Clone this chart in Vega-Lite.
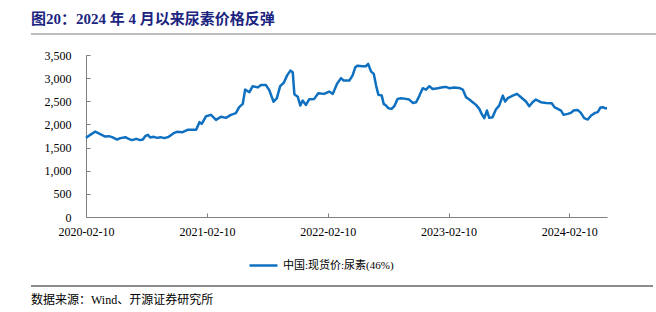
{
  "$schema": "https://vega.github.io/schema/vega-lite/v6.json",
  "padding": {"left": 30, "top": 12, "right": 0, "bottom": 0},
  "spacing": 14,
  "align": "none",
  "resolve": {"legend": {"color": "independent"}},
  "config": {
    "view": {"stroke": null},
    "font": "Liberation Serif, Noto Sans CJK SC",
    "axis": {"labelFont": "Liberation Serif, Noto Sans CJK SC", "labelFontSize": 12, "labelColor": "#000000", "domainColor": "#808080", "tickColor": "#808080", "grid": false, "title": null}
  },
  "vconcat": [
    {
      "width": 571,
      "height": 1,
      "title": {"text": "图20：2024 年 4 月以来尿素价格反弹", "anchor": "start", "frame": "group", "dx": -55, "orient": "top", "font": "Liberation Serif, Noto Sans CJK SC", "fontSize": 15, "fontWeight": "bold", "color": "#1b2580", "offset": 6},
      "data": {"values": [{"part": "header"}]},
      "mark": {"type": "rule", "color": "#7f7f7f", "strokeWidth": 1.2},
      "encoding": {
        "x": {"datum": 0, "type": "quantitative", "scale": {"domain": [0, 1], "range": [-55, 571]}, "axis": null},
        "x2": {"datum": 1},
        "y": {"datum": 1, "type": "quantitative", "scale": {"domain": [0, 1]}, "axis": null}
      }
    },
    {
      "spacing": 14,
      "align": "none",
      "resolve": {"legend": {"color": "independent"}},
      "vconcat": [
        {
          "width": 521,
          "height": 162,
          "data": {"values": [
            {"date": "2020-02-10", "price": 1710, "series": "中国:现货价:尿素(46%)"},
            {"date": "2020-02-23", "price": 1775, "series": "中国:现货价:尿素(46%)"},
            {"date": "2020-03-09", "price": 1846, "series": "中国:现货价:尿素(46%)"},
            {"date": "2020-03-24", "price": 1790, "series": "中国:现货价:尿素(46%)"},
            {"date": "2020-04-08", "price": 1739, "series": "中国:现货价:尿素(46%)"},
            {"date": "2020-04-19", "price": 1747, "series": "中国:现货价:尿素(46%)"},
            {"date": "2020-04-29", "price": 1725, "series": "中国:现货价:尿素(46%)"},
            {"date": "2020-05-14", "price": 1674, "series": "中国:现货价:尿素(46%)"},
            {"date": "2020-05-24", "price": 1704, "series": "中国:现货价:尿素(46%)"},
            {"date": "2020-06-08", "price": 1725, "series": "中国:现货价:尿素(46%)"},
            {"date": "2020-06-18", "price": 1689, "series": "中国:现货价:尿素(46%)"},
            {"date": "2020-06-28", "price": 1661, "series": "中国:现货价:尿素(46%)"},
            {"date": "2020-07-11", "price": 1689, "series": "中国:现货价:尿素(46%)"},
            {"date": "2020-07-23", "price": 1661, "series": "中国:现货价:尿素(46%)"},
            {"date": "2020-07-31", "price": 1674, "series": "中国:现货价:尿素(46%)"},
            {"date": "2020-08-07", "price": 1747, "series": "中国:现货价:尿素(46%)"},
            {"date": "2020-08-15", "price": 1775, "series": "中国:现货价:尿素(46%)"},
            {"date": "2020-08-22", "price": 1717, "series": "中国:现货价:尿素(46%)"},
            {"date": "2020-09-02", "price": 1732, "series": "中国:现货价:尿素(46%)"},
            {"date": "2020-09-12", "price": 1710, "series": "中国:现货价:尿素(46%)"},
            {"date": "2020-09-22", "price": 1725, "series": "中国:现货价:尿素(46%)"},
            {"date": "2020-10-04", "price": 1704, "series": "中国:现货价:尿素(46%)"},
            {"date": "2020-10-17", "price": 1732, "series": "中国:现货价:尿素(46%)"},
            {"date": "2020-11-01", "price": 1812, "series": "中国:现货价:尿素(46%)"},
            {"date": "2020-11-11", "price": 1840, "series": "中国:现货价:尿素(46%)"},
            {"date": "2020-11-28", "price": 1833, "series": "中国:现货价:尿素(46%)"},
            {"date": "2020-12-13", "price": 1883, "series": "中国:现货价:尿素(46%)"},
            {"date": "2021-01-08", "price": 1883, "series": "中国:现货价:尿素(46%)"},
            {"date": "2021-01-18", "price": 2049, "series": "中国:现货价:尿素(46%)"},
            {"date": "2021-01-25", "price": 2013, "series": "中国:现货价:尿素(46%)"},
            {"date": "2021-02-07", "price": 2178, "series": "中国:现货价:尿素(46%)"},
            {"date": "2021-02-22", "price": 2207, "series": "中国:现货价:尿素(46%)"},
            {"date": "2021-03-09", "price": 2099, "series": "中国:现货价:尿素(46%)"},
            {"date": "2021-03-24", "price": 2165, "series": "中国:现货价:尿素(46%)"},
            {"date": "2021-04-08", "price": 2142, "series": "中国:现货价:尿素(46%)"},
            {"date": "2021-04-23", "price": 2207, "series": "中国:现货价:尿素(46%)"},
            {"date": "2021-05-08", "price": 2243, "series": "中国:现货价:尿素(46%)"},
            {"date": "2021-05-18", "price": 2373, "series": "中国:现货价:尿素(46%)"},
            {"date": "2021-05-29", "price": 2444, "series": "中国:现货价:尿素(46%)"},
            {"date": "2021-06-05", "price": 2752, "series": "中国:现货价:尿素(46%)"},
            {"date": "2021-06-18", "price": 2696, "series": "中国:现货价:尿素(46%)"},
            {"date": "2021-06-28", "price": 2826, "series": "中国:现货价:尿素(46%)"},
            {"date": "2021-07-13", "price": 2800, "series": "中国:现货价:尿素(46%)"},
            {"date": "2021-07-23", "price": 2850, "series": "中国:现货价:尿素(46%)"},
            {"date": "2021-08-07", "price": 2850, "series": "中国:现货价:尿素(46%)"},
            {"date": "2021-08-17", "price": 2740, "series": "中国:现货价:尿素(46%)"},
            {"date": "2021-08-30", "price": 2490, "series": "中国:现货价:尿素(46%)"},
            {"date": "2021-09-09", "price": 2570, "series": "中国:现货价:尿素(46%)"},
            {"date": "2021-09-19", "price": 2826, "series": "中国:现货价:尿素(46%)"},
            {"date": "2021-09-30", "price": 2900, "series": "中国:现货价:尿素(46%)"},
            {"date": "2021-10-10", "price": 3060, "series": "中国:现货价:尿素(46%)"},
            {"date": "2021-10-20", "price": 3162, "series": "中国:现货价:尿素(46%)"},
            {"date": "2021-10-27", "price": 3128, "series": "中国:现货价:尿素(46%)"},
            {"date": "2021-11-01", "price": 2650, "series": "中国:现货价:尿素(46%)"},
            {"date": "2021-11-11", "price": 2600, "series": "中国:现货价:尿素(46%)"},
            {"date": "2021-11-19", "price": 2407, "series": "中国:现货价:尿素(46%)"},
            {"date": "2021-11-26", "price": 2515, "series": "中国:现货价:尿素(46%)"},
            {"date": "2021-12-06", "price": 2422, "series": "中国:现货价:尿素(46%)"},
            {"date": "2021-12-16", "price": 2545, "series": "中国:现货价:尿素(46%)"},
            {"date": "2021-12-31", "price": 2552, "series": "中国:现货价:尿素(46%)"},
            {"date": "2022-01-12", "price": 2675, "series": "中国:现货价:尿素(46%)"},
            {"date": "2022-01-30", "price": 2660, "series": "中国:现货价:尿素(46%)"},
            {"date": "2022-02-14", "price": 2710, "series": "中国:现货价:尿素(46%)"},
            {"date": "2022-02-25", "price": 2660, "series": "中国:现货价:尿素(46%)"},
            {"date": "2022-03-10", "price": 2880, "series": "中国:现货价:尿素(46%)"},
            {"date": "2022-03-22", "price": 3000, "series": "中国:现货价:尿素(46%)"},
            {"date": "2022-03-30", "price": 2947, "series": "中国:现货价:尿素(46%)"},
            {"date": "2022-04-16", "price": 2947, "series": "中国:现货价:尿素(46%)"},
            {"date": "2022-04-26", "price": 3060, "series": "中国:现货价:尿素(46%)"},
            {"date": "2022-05-04", "price": 3235, "series": "中国:现货价:尿素(46%)"},
            {"date": "2022-05-11", "price": 3270, "series": "中国:现货价:尿素(46%)"},
            {"date": "2022-05-26", "price": 3257, "series": "中国:现货价:尿素(46%)"},
            {"date": "2022-06-05", "price": 3257, "series": "中国:现货价:尿素(46%)"},
            {"date": "2022-06-12", "price": 3307, "series": "中国:现货价:尿素(46%)"},
            {"date": "2022-06-21", "price": 3141, "series": "中国:现货价:尿素(46%)"},
            {"date": "2022-06-29", "price": 3091, "series": "中国:现货价:尿素(46%)"},
            {"date": "2022-07-06", "price": 2839, "series": "中国:现货价:尿素(46%)"},
            {"date": "2022-07-13", "price": 2638, "series": "中国:现货价:尿素(46%)"},
            {"date": "2022-07-23", "price": 2623, "series": "中国:现货价:尿素(46%)"},
            {"date": "2022-07-29", "price": 2444, "series": "中国:现货价:尿素(46%)"},
            {"date": "2022-08-05", "price": 2407, "series": "中国:现货价:尿素(46%)"},
            {"date": "2022-08-12", "price": 2351, "series": "中国:现货价:尿素(46%)"},
            {"date": "2022-08-22", "price": 2336, "series": "中国:现货价:尿素(46%)"},
            {"date": "2022-08-30", "price": 2394, "series": "中国:现货价:尿素(46%)"},
            {"date": "2022-09-09", "price": 2552, "series": "中国:现货价:尿素(46%)"},
            {"date": "2022-09-19", "price": 2567, "series": "中国:现货价:尿素(46%)"},
            {"date": "2022-10-04", "price": 2552, "series": "中国:现货价:尿素(46%)"},
            {"date": "2022-10-14", "price": 2537, "series": "中国:现货价:尿素(46%)"},
            {"date": "2022-10-25", "price": 2465, "series": "中国:现货价:尿素(46%)"},
            {"date": "2022-11-04", "price": 2480, "series": "中国:现货价:尿素(46%)"},
            {"date": "2022-11-14", "price": 2623, "series": "中国:现货价:尿素(46%)"},
            {"date": "2022-11-24", "price": 2783, "series": "中国:现货价:尿素(46%)"},
            {"date": "2022-12-04", "price": 2752, "series": "中国:现货价:尿素(46%)"},
            {"date": "2022-12-14", "price": 2826, "series": "中国:现货价:尿素(46%)"},
            {"date": "2022-12-24", "price": 2767, "series": "中国:现货价:尿素(46%)"},
            {"date": "2023-01-08", "price": 2783, "series": "中国:现货价:尿素(46%)"},
            {"date": "2023-01-23", "price": 2804, "series": "中国:现货价:尿素(46%)"},
            {"date": "2023-02-02", "price": 2810, "series": "中国:现货价:尿素(46%)"},
            {"date": "2023-02-12", "price": 2783, "series": "中国:现货价:尿素(46%)"},
            {"date": "2023-02-27", "price": 2796, "series": "中国:现货价:尿素(46%)"},
            {"date": "2023-03-14", "price": 2789, "series": "中国:现货价:尿素(46%)"},
            {"date": "2023-03-25", "price": 2752, "series": "中国:现货价:尿素(46%)"},
            {"date": "2023-04-04", "price": 2588, "series": "中国:现货价:尿素(46%)"},
            {"date": "2023-04-14", "price": 2537, "series": "中国:现货价:尿素(46%)"},
            {"date": "2023-04-24", "price": 2480, "series": "中国:现货价:尿素(46%)"},
            {"date": "2023-05-04", "price": 2422, "series": "中国:现货价:尿素(46%)"},
            {"date": "2023-05-14", "price": 2336, "series": "中国:现货价:尿素(46%)"},
            {"date": "2023-05-21", "price": 2228, "series": "中国:现货价:尿素(46%)"},
            {"date": "2023-05-29", "price": 2135, "series": "中国:现货价:尿素(46%)"},
            {"date": "2023-06-06", "price": 2300, "series": "中国:现货价:尿素(46%)"},
            {"date": "2023-06-13", "price": 2142, "series": "中国:现货价:尿素(46%)"},
            {"date": "2023-06-23", "price": 2157, "series": "中国:现货价:尿素(46%)"},
            {"date": "2023-07-03", "price": 2321, "series": "中国:现货价:尿素(46%)"},
            {"date": "2023-07-13", "price": 2407, "series": "中国:现货价:尿素(46%)"},
            {"date": "2023-07-24", "price": 2623, "series": "中国:现货价:尿素(46%)"},
            {"date": "2023-07-31", "price": 2494, "series": "中国:现货价:尿素(46%)"},
            {"date": "2023-08-08", "price": 2567, "series": "中国:现货价:尿素(46%)"},
            {"date": "2023-08-23", "price": 2623, "series": "中国:现货价:尿素(46%)"},
            {"date": "2023-09-05", "price": 2660, "series": "中国:现货价:尿素(46%)"},
            {"date": "2023-09-17", "price": 2588, "series": "中国:现货价:尿素(46%)"},
            {"date": "2023-10-02", "price": 2494, "series": "中国:现货价:尿素(46%)"},
            {"date": "2023-10-12", "price": 2394, "series": "中国:现货价:尿素(46%)"},
            {"date": "2023-10-22", "price": 2480, "series": "中国:现货价:尿素(46%)"},
            {"date": "2023-11-01", "price": 2537, "series": "中国:现货价:尿素(46%)"},
            {"date": "2023-11-16", "price": 2480, "series": "中国:现货价:尿素(46%)"},
            {"date": "2023-12-02", "price": 2465, "series": "中国:现货价:尿素(46%)"},
            {"date": "2023-12-19", "price": 2459, "series": "中国:现货价:尿素(46%)"},
            {"date": "2023-12-27", "price": 2373, "series": "中国:现货价:尿素(46%)"},
            {"date": "2024-01-06", "price": 2336, "series": "中国:现货价:尿素(46%)"},
            {"date": "2024-01-16", "price": 2300, "series": "中国:现货价:尿素(46%)"},
            {"date": "2024-01-24", "price": 2207, "series": "中国:现货价:尿素(46%)"},
            {"date": "2024-02-05", "price": 2228, "series": "中国:现货价:尿素(46%)"},
            {"date": "2024-02-15", "price": 2250, "series": "中国:现货价:尿素(46%)"},
            {"date": "2024-02-23", "price": 2300, "series": "中国:现货价:尿素(46%)"},
            {"date": "2024-03-06", "price": 2314, "series": "中国:现货价:尿素(46%)"},
            {"date": "2024-03-16", "price": 2250, "series": "中国:现货价:尿素(46%)"},
            {"date": "2024-03-26", "price": 2135, "series": "中国:现货价:尿素(46%)"},
            {"date": "2024-04-06", "price": 2105, "series": "中国:现货价:尿素(46%)"},
            {"date": "2024-04-16", "price": 2192, "series": "中国:现货价:尿素(46%)"},
            {"date": "2024-04-28", "price": 2250, "series": "中国:现货价:尿素(46%)"},
            {"date": "2024-05-06", "price": 2265, "series": "中国:现货价:尿素(46%)"},
            {"date": "2024-05-14", "price": 2365, "series": "中国:现货价:尿素(46%)"},
            {"date": "2024-05-21", "price": 2373, "series": "中国:现货价:尿素(46%)"},
            {"date": "2024-05-28", "price": 2351, "series": "中国:现货价:尿素(46%)"},
            {"date": "2024-06-03", "price": 2351, "series": "中国:现货价:尿素(46%)"}
          ]},
          "mark": {"type": "line", "strokeWidth": 2.5, "strokeJoin": "round"},
          "encoding": {
            "x": {
              "field": "date", "type": "temporal",
              "scale": {"domain": ["2020-02-10", "2024-06-03"]},
              "axis": {
                "values": ["2020-02-10", "2021-02-10", "2022-02-10", "2023-02-10", "2024-02-10"],
                "format": "%Y-%m-%d", "labelFlush": false, "labelOverlap": false,
                "tickSize": -4, "labelPadding": 13
              }
            },
            "y": {
              "field": "price", "type": "quantitative",
              "scale": {"domain": [0, 3500], "nice": false},
              "axis": {"values": [0, 500, 1000, 1500, 2000, 2500, 3000, 3500], "format": ",d", "tickSize": -4, "labelPadding": 19, "minExtent": 55}
            },
            "color": {
              "field": "series", "type": "nominal",
              "scale": {"range": ["#0f70c0"]},
              "legend": {
                "title": null, "orient": "none", "legendX": 162, "legendY": 195,
                "direction": "horizontal", "symbolType": "stroke", "symbolSize": 784, "symbolStrokeWidth": 2.5,
                "labelFont": "Liberation Serif, Noto Sans CJK SC", "labelFontSize": 11, "labelColor": "#000000", "padding": 0
              }
            }
          }
        },
        {
          "width": 567,
          "height": 1,
          "title": {"text": "数据来源：Wind、开源证券研究所", "anchor": "start", "frame": "group", "dx": -55, "orient": "bottom", "font": "Liberation Serif, Noto Sans CJK SC", "fontSize": 12, "fontWeight": "normal", "color": "#000000", "offset": 8},
          "data": {"values": [{"part": "footer"}]},
          "mark": {"type": "rule", "color": "#8c8c8c", "strokeWidth": 1.8},
          "encoding": {
            "x": {"datum": 0, "type": "quantitative", "scale": {"domain": [0, 1], "range": [-55, 567]}, "axis": null},
            "x2": {"datum": 1},
            "y": {"datum": 1, "type": "quantitative", "scale": {"domain": [0, 1]}, "axis": null}
          }
        }
      ]
    }
  ]
}
